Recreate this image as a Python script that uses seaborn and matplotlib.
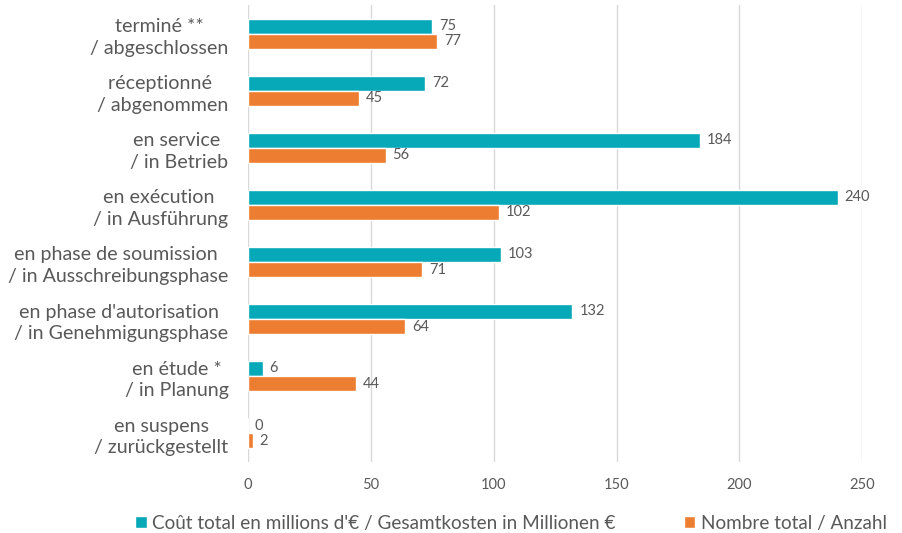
import pandas as pd
import matplotlib.pyplot as plt
import seaborn as sns

categories = [
    "terminé **\n/ abgeschlossen",
    "réceptionné \n/ abgenommen",
    "en service \n/ in Betrieb",
    "en exécution \n/ in Ausführung",
    "en phase de soumission \n/ in Ausschreibungsphase",
    "en phase d'autorisation \n/ in Genehmigungsphase",
    "en étude *\n/ in Planung",
    "en suspens\n/ zurückgestellt",
]
cost = [75, 72, 184, 240, 103, 132, 6, 0]
count = [77, 45, 56, 102, 71, 64, 44, 2]
series = ["Coût total en millions d'€ / Gesamtkosten in Millionen €", "Nombre total / Anzahl"]
colors = ["#07A8B7", "#ED7D31"]
x_ticks = [0, 50, 100, 150, 200, 250]

df = pd.DataFrame({
    "cat": categories * 2,
    "val": cost + count,
    "serie": [series[0]] * len(cost) + [series[1]] * len(count),
})

sns.set_style("white")
plt.rcParams['font.family'] = ['Lato', 'DejaVu Sans']
grey = "#595959"

fig = plt.figure(figsize=(9.03, 5.33), dpi=100)
ax = fig.add_axes([0.2746, 0.134, 0.955 - 0.2746, 0.856])
sns.barplot(data=df, y="cat", x="val", hue="serie", orient="h", palette=colors,
            width=0.53, saturation=1, ax=ax, legend=True)

for cont in ax.containers:
    ax.bar_label(cont, padding=5, color=grey, fontsize=10.5)

ax.set_xlim(0, 250)
ax.set_xticks(x_ticks)
ax.grid(axis="x", color="#D9D9D9", linewidth=1)
ax.set_axisbelow(True)
for s in ax.spines.values():
    s.set_visible(False)
ax.set_xlabel("")
ax.set_ylabel("")
ax.tick_params(axis="x", colors=grey, labelsize=10.5, length=0, pad=12)
ax.tick_params(axis="y", colors=grey, labelsize=14.1, length=0, pad=14)
for t in ax.get_yticklabels():
    t.set_multialignment("center")
    t.set_linespacing(1.3)
    t.set_color(grey)

ax.legend(loc="lower center", bbox_to_anchor=(0.566, -0.03), bbox_transform=fig.transFigure,
          ncol=2, frameon=False, fontsize=13.6, handlelength=0.6, handleheight=0.6,
          columnspacing=3.6, handletextpad=0.3, labelcolor=grey)

fig.savefig("out.png", dpi=100)
